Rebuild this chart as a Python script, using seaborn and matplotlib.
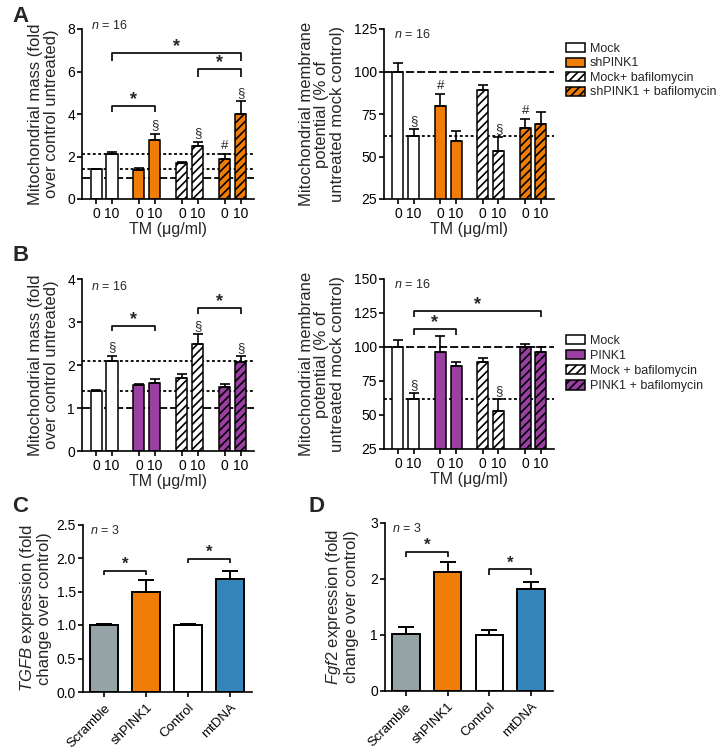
import matplotlib
matplotlib.use("Agg")
import matplotlib.pyplot as plt
import numpy as np
import pandas as pd
import seaborn as sns
from matplotlib.patches import Patch

# ---- values ----
doses = ["0", "10"]

a_groups = ["Mock", "shPINK1", "Mock+ bafilomycin", "shPINK1 + bafilomycin"]
a_mass = [1.4, 2.1, 1.38, 2.8, 1.7, 2.5, 1.9, 4.0]
a_mass_sem = [0.03, 0.12, 0.07, 0.28, 0.05, 0.2, 0.22, 0.62]
a_mass_marks = ["", "", "", "§", "", "§", "#", "§"]
a_pot = [100, 62, 80, 59, 89, 53, 67, 69]
a_pot_sem = [5, 4, 7, 6, 3, 8.5, 5, 7]
a_pot_marks = ["", "§", "#", "", "", "§", "#", ""]

b_groups = ["Mock", "PINK1", "Mock + bafilomycin", "PINK1 + bafilomycin"]
b_mass = [1.4, 2.1, 1.53, 1.58, 1.7, 2.5, 1.48, 2.08]
b_mass_sem = [0.02, 0.12, 0.03, 0.1, 0.08, 0.21, 0.07, 0.12]
b_mass_marks = ["", "§", "", "", "", "§", "", "§"]
b_pot = [100, 62, 96, 86, 89, 53, 100, 96]
b_pot_sem = [5, 4, 12, 3, 3, 9, 2, 4]
b_pot_marks = ["", "§", "", "", "", "§", "", ""]

cd_labels = ["Scramble", "shPINK1", "Control", "mtDNA"]
tgfb = [1.0, 1.5, 1.0, 1.68]
tgfb_sem = [0.01, 0.17, 0.01, 0.13]
fgf2 = [1.02, 2.12, 1.0, 1.82]
fgf2_sem = [0.13, 0.19, 0.09, 0.13]

# significance brackets: (bar i, bar j, height, drop)
a_mass_sig = [(1, 3, 4.38, 0.28), (5, 7, 6.1, 0.36), (1, 7, 6.86, 0.36)]
b_mass_sig = [(1, 3, 2.91, 0.12), (5, 7, 3.32, 0.14)]
b_pot_sig = [(1, 3, 113, 4.2), (1, 7, 126.7, 5)]
tgfb_sig = [(0, 1, 1.81, 0.07), (2, 3, 1.99, 0.07)]
fgf2_sig = [(0, 1, 2.49, 0.09), (2, 3, 2.17, 0.09)]

# reference lines
mass_lines = [(2.1, "short"), (1.4, "short"), (1.0, "long")]
pot_lines = [(100, "long"), (62, "short")]

ORANGE = "#F07D08"
PURPLE = "#9B3FA3"
GRAY = "#95A2A6"
BLUE = "#3585BA"

sns.set_theme(style="ticks")
plt.rcParams["font.family"] = ["Liberation Sans", "DejaVu Sans"]
plt.rcParams["mathtext.fontset"] = "custom"
plt.rcParams["mathtext.rm"] = "Liberation Sans"
plt.rcParams["mathtext.it"] = "Liberation Sans:italic"
plt.rcParams["hatch.linewidth"] = 1.2
plt.rcParams["axes.linewidth"] = 1.2
plt.rcParams["xtick.major.width"] = 1.2
plt.rcParams["ytick.major.width"] = 1.2
plt.rcParams["xtick.major.size"] = 3.5
plt.rcParams["ytick.major.size"] = 3.5
plt.rcParams["xtick.color"] = "black"
plt.rcParams["ytick.color"] = "black"
plt.rcParams["axes.edgecolor"] = "black"

DASH = {"short": (0, (1.6, 1.4)), "long": (0, (4.5, 1.6))}

fig = plt.figure(figsize=(7.21, 7.5), dpi=100)


def px_axes(x0, y0, x1, y1):
    return fig.add_axes([x0 / 721, 1 - y1 / 750, (x1 - x0) / 721, (y1 - y0) / 750])


def sig(ax, xs, items, lw=1.2, size=13):
    for i, j, h, d in items:
        ax.plot([xs[i], xs[i], xs[j], xs[j]], [h - d, h, h, h - d],
                color="black", lw=lw, solid_capstyle="butt", clip_on=False)
        ax.annotate("*", ((xs[i] + xs[j]) / 2, h), xytext=(0, 1.5),
                    textcoords="offset points", ha="center", va="baseline",
                    fontsize=size, fontweight="bold", annotation_clip=False)


def grouped_panel(ax, groups, colors, hatches, vals, sems, marks, lines,
                  ylim, yticks, ylabel, ylabel_x, ylabel_y, n_xy):
    pos = [g * 2.69 + k for g in range(4) for k in range(2)]
    grp = [groups[g] for g in range(4) for k in range(2)]
    df = pd.DataFrame({"pos": pos, "val": vals, "group": grp})
    for y, kind in lines:
        ax.axhline(y, color="black", lw=1.3, ls=DASH[kind], zorder=0.5)
    sns.barplot(data=df, x="pos", y="val", hue="group", hue_order=groups,
                palette=dict(zip(groups, colors)), native_scale=True,
                dodge=False, width=0.69, saturation=1, errorbar=None,
                edgecolor="black", linewidth=1.1, legend=False, ax=ax, zorder=2)
    for cont, h in zip(ax.containers, hatches):
        for bar in cont:
            bar.set_hatch(h)
    ax.errorbar(pos, vals, yerr=[np.zeros(len(sems)), sems], fmt="none",
                ecolor="black", elinewidth=1.2, capsize=3.5, capthick=1.2,
                zorder=3)
    for x, v, s, m in zip(pos, vals, sems, marks):
        if m:
            ax.annotate(m, (x, v + s), xytext=(0, 1.5), textcoords="offset points",
                        ha="center", va="bottom", fontsize=9.5)
    ax.set_xlim(-0.88, 9.9)
    ax.set_xticks(pos)
    ax.set_xticklabels(doses * 4, fontsize=10)
    ax.set_ylim(*ylim)
    ax.set_yticks(yticks)
    ax.tick_params(axis="y", labelsize=10, pad=1.5)
    ax.tick_params(axis="x", pad=2)
    ax.set_xlabel("TM (\u03bcg/ml)", fontsize=11.5, labelpad=1)
    ax.set_ylabel(ylabel, fontsize=12, va="center", linespacing=1.05)
    ax.yaxis.set_label_coords(ylabel_x, ylabel_y)
    ax.text(n_xy[0], n_xy[1], "$\\mathit{n}$ = 16", transform=ax.transAxes,
            fontsize=9, va="center", ha="left")
    sns.despine(ax=ax)
    return pos


mass_label = "Mitochondrial mass (fold\nover control untreated)"
pot_label = "Mitochondrial membrane\npotential (% of\nuntreated mock control)"
hatches = ["", "", "////", "////"]

# panel A
a_cols = ["white", ORANGE, "white", ORANGE]
ax = px_axes(82, 29, 254, 199)
pos = grouped_panel(ax, a_groups, a_cols, hatches, a_mass, a_mass_sem, a_mass_marks,
                    mass_lines, (0, 8), [0, 2, 4, 6, 8], mass_label, -0.225, 0.5,
                    (0.05, 1.02))
sig(ax, pos, a_mass_sig)

ax = px_axes(384, 29, 554, 199)
grouped_panel(ax, a_groups, a_cols, hatches, a_pot, a_pot_sem, a_pot_marks,
              pot_lines, (25, 125), [25, 50, 75, 100, 125], pot_label, -0.365, 0.5,
              (0.06, 0.97))

fig.legend(handles=[Patch(facecolor=c, edgecolor="black", hatch=h, lw=1.1)
                    for c, h in zip(a_cols, hatches)], labels=a_groups,
           loc="upper left", bbox_to_anchor=(566 / 721, 1 - 43 / 750),
           frameon=False, fontsize=9, handlelength=1.55, handleheight=0.75,
           handletextpad=0.35, labelspacing=0.2, borderpad=0, borderaxespad=0)

# panel B
b_cols = ["white", PURPLE, "white", PURPLE]
ax = px_axes(82, 279, 254, 451)
pos = grouped_panel(ax, b_groups, b_cols, hatches, b_mass, b_mass_sem, b_mass_marks,
                    mass_lines, (0, 4), [0, 1, 2, 3, 4], mass_label, -0.225, 0.5,
                    (0.05, 0.955))
sig(ax, pos, b_mass_sig)

ax = px_axes(384, 279, 554, 449)
pos = grouped_panel(ax, b_groups, b_cols, hatches, b_pot, b_pot_sem, b_pot_marks,
                    pot_lines, (25, 150), [25, 50, 75, 100, 125, 150], pot_label,
                    -0.365, 0.5, (0.06, 0.965))
sig(ax, pos, b_pot_sig)

fig.legend(handles=[Patch(facecolor=c, edgecolor="black", hatch=h, lw=1.1)
                    for c, h in zip(b_cols, hatches)], labels=b_groups,
           loc="upper left", bbox_to_anchor=(566 / 721, 1 - 335 / 750),
           frameon=False, fontsize=9, handlelength=1.55, handleheight=0.75,
           handletextpad=0.35, labelspacing=0.25, borderpad=0, borderaxespad=0)

# panels C and D
cd_cols = [GRAY, ORANGE, "white", BLUE]


def simple_panel(ax, vals, sems, marks_sig, ylim, yticks, fmt, ylabel, lx):
    sns.barplot(x=cd_labels, y=vals, hue=cd_labels, palette=cd_cols,
                width=0.66, saturation=1, errorbar=None, edgecolor="black",
                linewidth=1.4, legend=False, ax=ax)
    ax.errorbar(range(4), vals, yerr=[np.zeros(4), sems], fmt="none",
                ecolor="black", elinewidth=1.4, capsize=6, capthick=1.4, zorder=3)
    sig(ax, list(range(4)), marks_sig, lw=1.2, size=12)
    ax.set_xlim(-0.5, 3.52)
    ax.set_ylim(*ylim)
    ax.set_yticks(yticks)
    ax.set_yticklabels([fmt.format(t) for t in yticks])
    ax.tick_params(axis="y", labelsize=10, pad=1.5)
    ax.set_xticks(range(4))
    ax.set_xticklabels(cd_labels, rotation=45, ha="right", rotation_mode="anchor",
                       fontsize=9.5)
    ax.set_ylabel(ylabel, fontsize=12, va="center", linespacing=1.05)
    ax.yaxis.set_label_coords(lx, 0.5)
    ax.text(0.04, 0.965, "$\\mathit{n}$ = 3", transform=ax.transAxes,
            fontsize=9, va="center", ha="left")
    sns.despine(ax=ax)


ax = px_axes(83, 524.5, 252, 692)
simple_panel(ax, tgfb, tgfb_sem, tgfb_sig, (0, 2.5), [0, 0.5, 1.0, 1.5, 2.0, 2.5],
             "{:.1f}", "$\\mathit{TGFB}$ expression (fold\nchange over control)", -0.285)

ax = px_axes(385, 523, 553, 691)
simple_panel(ax, fgf2, fgf2_sem, fgf2_sig, (0, 3), [0, 1, 2, 3],
             "{:.0f}", "$\\mathit{Fgf2}$ expression (fold\nchange over control)", -0.26)

# panel letters
for letter, x, y in [("A", 12, 16), ("B", 12, 256), ("C", 12, 507), ("D", 309, 507)]:
    fig.text(x / 721, 1 - y / 750, letter, fontsize=16, fontweight="bold",
             va="center", ha="left")

fig.savefig("out.png", dpi=100, facecolor="white")
